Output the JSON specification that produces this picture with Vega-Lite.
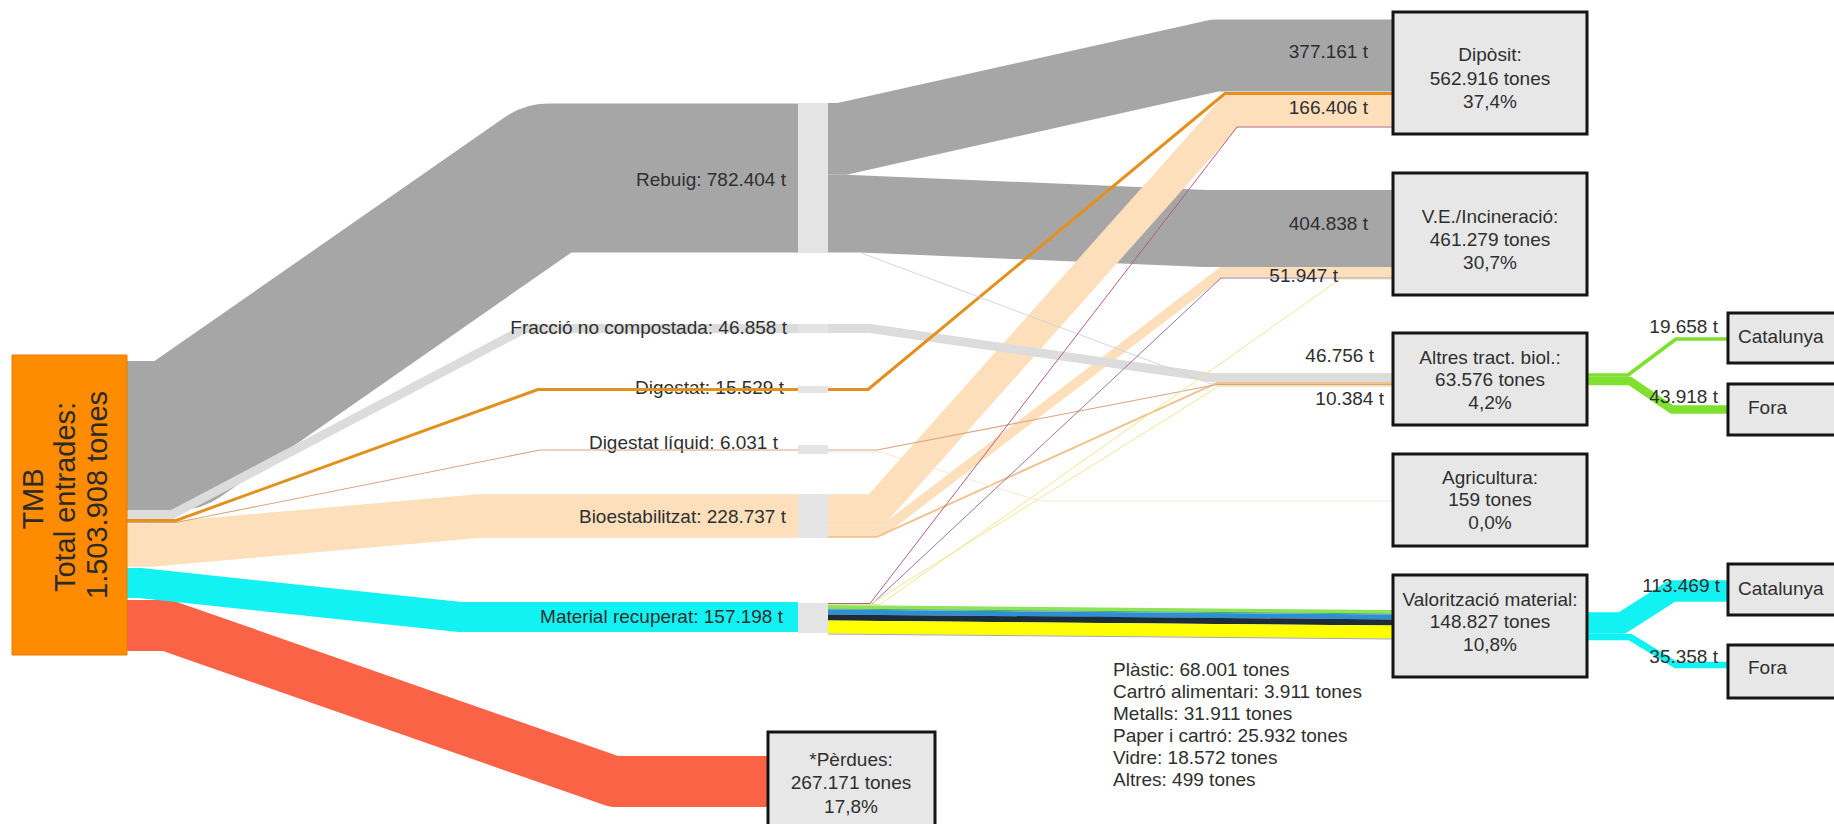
{
  "$schema": "https://vega.github.io/schema/vega-lite/v6.json",
  "width": 1834,
  "height": 824,
  "autosize": {"type": "none"},
  "padding": 0,
  "background": "white",
  "config": {"view": {"stroke": null}},
  "datasets": {
    "links": [
      {"id":"L1","flow":"Rebuig","t":782404,"g":1,"i":0,"x":127,"y":435.5},
      {"id":"L1","flow":"Rebuig","t":782404,"g":1,"i":1,"x":178,"y":435.5},
      {"id":"L1","flow":"Rebuig","t":782404,"g":1,"i":2,"x":548,"y":178},
      {"id":"L1","flow":"Rebuig","t":782404,"g":1,"i":3,"x":798,"y":178},
      {"id":"L2","flow":"Perdues","t":267171,"g":1,"i":0,"x":127,"y":625.5},
      {"id":"L2","flow":"Perdues","t":267171,"g":1,"i":1,"x":167,"y":625.5},
      {"id":"L2","flow":"Perdues","t":267171,"g":1,"i":2,"x":614,"y":781.5},
      {"id":"L2","flow":"Perdues","t":267171,"g":1,"i":3,"x":770,"y":781.5},
      {"id":"L3","flow":"MatRec","t":157198,"g":1,"i":0,"x":127,"y":583},
      {"id":"L3","flow":"MatRec","t":157198,"g":1,"i":1,"x":140,"y":583},
      {"id":"L3","flow":"MatRec","t":157198,"g":1,"i":2,"x":460,"y":617},
      {"id":"L3","flow":"MatRec","t":157198,"g":1,"i":3,"x":798,"y":617},
      {"id":"L4","flow":"Rebuig","t":377161,"g":1,"i":0,"x":828,"y":138.9},
      {"id":"L4","flow":"Rebuig","t":377161,"g":1,"i":1,"x":842,"y":138.9},
      {"id":"L4","flow":"Rebuig","t":377161,"g":1,"i":2,"x":1215,"y":55.5},
      {"id":"L4","flow":"Rebuig","t":377161,"g":1,"i":3,"x":1394,"y":55.5},
      {"id":"L5","flow":"Rebuig","t":404838,"g":1,"i":0,"x":828,"y":213.4},
      {"id":"L5","flow":"Rebuig","t":404838,"g":1,"i":1,"x":850,"y":213.4},
      {"id":"L5","flow":"Rebuig","t":404838,"g":1,"i":2,"x":1205,"y":228.5},
      {"id":"L5","flow":"Rebuig","t":404838,"g":1,"i":3,"x":1394,"y":228.5},
      {"id":"L6","flow":"Bioest","t":228737,"g":2,"i":0,"x":127,"y":545},
      {"id":"L6","flow":"Bioest","t":228737,"g":2,"i":1,"x":150,"y":545},
      {"id":"L6","flow":"Bioest","t":228737,"g":2,"i":2,"x":480,"y":516},
      {"id":"L6","flow":"Bioest","t":228737,"g":2,"i":3,"x":798,"y":516},
      {"id":"L7","flow":"Bioest","t":166406,"g":2,"i":0,"x":828,"y":510},
      {"id":"L7","flow":"Bioest","t":166406,"g":2,"i":1,"x":876,"y":510},
      {"id":"L7","flow":"Bioest","t":166406,"g":2,"i":2,"x":1232,"y":110.3},
      {"id":"L7","flow":"Bioest","t":166406,"g":2,"i":3,"x":1394,"y":110.3},
      {"id":"L8","flow":"Bioest","t":51947,"g":2,"i":0,"x":828,"y":530.9},
      {"id":"L8","flow":"Bioest","t":51947,"g":2,"i":1,"x":882,"y":530.9},
      {"id":"L8","flow":"Bioest","t":51947,"g":2,"i":2,"x":1222,"y":272},
      {"id":"L8","flow":"Bioest","t":51947,"g":2,"i":3,"x":1394,"y":272},
      {"id":"L9","flow":"BioThin","t":10384,"g":2,"i":0,"x":828,"y":536.8},
      {"id":"L9","flow":"BioThin","t":10384,"g":2,"i":1,"x":877,"y":536.8},
      {"id":"L9","flow":"BioThin","t":10384,"g":2,"i":2,"x":1217,"y":382.9},
      {"id":"L9","flow":"BioThin","t":10384,"g":2,"i":3,"x":1394,"y":382.9},
      {"id":"L10","flow":"Fraccio","t":46858,"g":2,"i":0,"x":127,"y":514.5},
      {"id":"L10","flow":"Fraccio","t":46858,"g":2,"i":1,"x":172,"y":514.5},
      {"id":"L10","flow":"Fraccio","t":46858,"g":2,"i":2,"x":525,"y":328.5},
      {"id":"L10","flow":"Fraccio","t":46858,"g":2,"i":3,"x":798,"y":328.5},
      {"id":"L11","flow":"Fraccio","t":46756,"g":2,"i":0,"x":828,"y":328.5},
      {"id":"L11","flow":"Fraccio","t":46756,"g":2,"i":1,"x":870,"y":328.5},
      {"id":"L11","flow":"Fraccio","t":46756,"g":2,"i":2,"x":1212,"y":377.5},
      {"id":"L11","flow":"Fraccio","t":46756,"g":2,"i":3,"x":1394,"y":377.5},
      {"id":"L12","flow":"Digestat","t":15529,"g":3,"i":0,"x":127,"y":520.5},
      {"id":"L12","flow":"Digestat","t":15529,"g":3,"i":1,"x":176,"y":520.5},
      {"id":"L12","flow":"Digestat","t":15529,"g":3,"i":2,"x":538,"y":389.5},
      {"id":"L12","flow":"Digestat","t":15529,"g":3,"i":3,"x":798,"y":389.5},
      {"id":"L13","flow":"Digestat","t":15529,"g":3,"i":0,"x":828,"y":389.5},
      {"id":"L13","flow":"Digestat","t":15529,"g":3,"i":1,"x":868,"y":389.5},
      {"id":"L13","flow":"Digestat","t":15529,"g":3,"i":2,"x":1225,"y":93.5},
      {"id":"L13","flow":"Digestat","t":15529,"g":3,"i":3,"x":1394,"y":93.5},
      {"id":"L14","flow":"DigLiq","t":6031,"g":3,"i":0,"x":127,"y":522.5},
      {"id":"L14","flow":"DigLiq","t":6031,"g":3,"i":1,"x":176,"y":522.5},
      {"id":"L14","flow":"DigLiq","t":6031,"g":3,"i":2,"x":540,"y":450},
      {"id":"L14","flow":"DigLiq","t":6031,"g":3,"i":3,"x":798,"y":450},
      {"id":"L15","flow":"DigLiq","t":6031,"g":3,"i":0,"x":828,"y":450},
      {"id":"L15","flow":"DigLiq","t":6031,"g":3,"i":1,"x":877,"y":450},
      {"id":"L15","flow":"DigLiq","t":6031,"g":3,"i":2,"x":1217,"y":384.5},
      {"id":"L15","flow":"DigLiq","t":6031,"g":3,"i":3,"x":1394,"y":384.5},
      {"id":"L16","flow":"RebThin","t":405,"g":3,"i":0,"x":828,"y":252.5},
      {"id":"L16","flow":"RebThin","t":405,"g":3,"i":1,"x":860,"y":252.5},
      {"id":"L16","flow":"RebThin","t":405,"g":3,"i":2,"x":1217,"y":386},
      {"id":"L16","flow":"RebThin","t":405,"g":3,"i":3,"x":1394,"y":386},
      {"id":"L17","flow":"Agri","t":159,"g":3,"i":0,"x":828,"y":452},
      {"id":"L17","flow":"Agri","t":159,"g":3,"i":1,"x":880,"y":452},
      {"id":"L17","flow":"Agri","t":159,"g":3,"i":2,"x":1040,"y":501},
      {"id":"L17","flow":"Agri","t":159,"g":3,"i":3,"x":1394,"y":501},
      {"id":"L18","flow":"Maroon","t":3820,"g":3,"i":0,"x":828,"y":603.5},
      {"id":"L18","flow":"Maroon","t":3820,"g":3,"i":1,"x":870,"y":603.5},
      {"id":"L18","flow":"Maroon","t":3820,"g":3,"i":2,"x":1237,"y":127},
      {"id":"L18","flow":"Maroon","t":3820,"g":3,"i":3,"x":1394,"y":127},
      {"id":"L19","flow":"Purple","t":2500,"g":3,"i":0,"x":828,"y":604},
      {"id":"L19","flow":"Purple","t":2500,"g":3,"i":1,"x":872,"y":604},
      {"id":"L19","flow":"Purple","t":2500,"g":3,"i":2,"x":1221,"y":278},
      {"id":"L19","flow":"Purple","t":2500,"g":3,"i":3,"x":1394,"y":278},
      {"id":"L20","flow":"PaleYellow","t":1994,"g":3,"i":0,"x":828,"y":604.5},
      {"id":"L20","flow":"PaleYellow","t":1994,"g":3,"i":1,"x":880,"y":604.5},
      {"id":"L20","flow":"PaleYellow","t":1994,"g":3,"i":2,"x":1340,"y":279},
      {"id":"L20","flow":"PaleYellow","t":1994,"g":3,"i":3,"x":1394,"y":279},
      {"id":"L21","flow":"PaleYellow","t":300,"g":3,"i":0,"x":828,"y":604.5},
      {"id":"L21","flow":"PaleYellow","t":300,"g":3,"i":1,"x":870,"y":604.5},
      {"id":"L21","flow":"PaleYellow","t":300,"g":3,"i":2,"x":1220,"y":385.5},
      {"id":"L21","flow":"PaleYellow","t":300,"g":3,"i":3,"x":1394,"y":385.5},
      {"id":"L22","flow":"Vidre","t":18572,"g":3,"i":0,"x":828,"y":606.8},
      {"id":"L22","flow":"Vidre","t":18572,"g":3,"i":1,"x":1394,"y":611.8},
      {"id":"L23","flow":"Cartro","t":3911,"g":3,"i":0,"x":828,"y":609},
      {"id":"L23","flow":"Cartro","t":3911,"g":3,"i":1,"x":1394,"y":614},
      {"id":"L24","flow":"Paper","t":25932,"g":3,"i":0,"x":828,"y":612},
      {"id":"L24","flow":"Paper","t":25932,"g":3,"i":1,"x":1394,"y":617},
      {"id":"L25","flow":"Metalls","t":31911,"g":3,"i":0,"x":828,"y":617.5},
      {"id":"L25","flow":"Metalls","t":31911,"g":3,"i":1,"x":1394,"y":622.5},
      {"id":"L26","flow":"Plastic","t":68001,"g":3,"i":0,"x":828,"y":627},
      {"id":"L26","flow":"Plastic","t":68001,"g":3,"i":1,"x":1394,"y":632},
      {"id":"L27","flow":"AltresMat","t":499,"g":3,"i":0,"x":828,"y":634},
      {"id":"L27","flow":"AltresMat","t":499,"g":3,"i":1,"x":1394,"y":639},
      {"id":"L28","flow":"Green","t":19658,"g":3,"i":0,"x":1586,"y":375},
      {"id":"L28","flow":"Green","t":19658,"g":3,"i":1,"x":1628,"y":375},
      {"id":"L28","flow":"Green","t":19658,"g":3,"i":2,"x":1676,"y":339},
      {"id":"L28","flow":"Green","t":19658,"g":3,"i":3,"x":1729,"y":339},
      {"id":"L29","flow":"Green","t":43918,"g":3,"i":0,"x":1586,"y":381},
      {"id":"L29","flow":"Green","t":43918,"g":3,"i":1,"x":1630,"y":381},
      {"id":"L29","flow":"Green","t":43918,"g":3,"i":2,"x":1672,"y":409.5},
      {"id":"L29","flow":"Green","t":43918,"g":3,"i":3,"x":1729,"y":409.5},
      {"id":"L30","flow":"MatRec","t":113469,"g":3,"i":0,"x":1586,"y":623},
      {"id":"L30","flow":"MatRec","t":113469,"g":3,"i":1,"x":1622,"y":623},
      {"id":"L30","flow":"MatRec","t":113469,"g":3,"i":2,"x":1672,"y":591},
      {"id":"L30","flow":"MatRec","t":113469,"g":3,"i":3,"x":1729,"y":591},
      {"id":"L31","flow":"MatRec","t":35358,"g":3,"i":0,"x":1586,"y":637},
      {"id":"L31","flow":"MatRec","t":35358,"g":3,"i":1,"x":1630,"y":637},
      {"id":"L31","flow":"MatRec","t":35358,"g":3,"i":2,"x":1676,"y":665},
      {"id":"L31","flow":"MatRec","t":35358,"g":3,"i":3,"x":1729,"y":665}
    ],
    "nodes": [
      {"name":"TMB","kind":"tmb","x0":12,"x1":127,"y0":355,"y1":655},
      {"name":"Rebuig","kind":"bar","x0":798,"x1":828,"y0":103,"y1":253},
      {"name":"Fraccio","kind":"bar","x0":798,"x1":828,"y0":324,"y1":333},
      {"name":"Digestat","kind":"bar","x0":798,"x1":828,"y0":386,"y1":393},
      {"name":"DigLiq","kind":"bar","x0":798,"x1":828,"y0":445,"y1":454},
      {"name":"Bioest","kind":"bar","x0":798,"x1":828,"y0":494,"y1":538},
      {"name":"MatRec","kind":"bar","x0":798,"x1":828,"y0":603,"y1":633},
      {"name":"Diposit","kind":"box","x0":1393,"x1":1587,"y0":12,"y1":134},
      {"name":"VE","kind":"box","x0":1393,"x1":1587,"y0":173,"y1":295},
      {"name":"Altres","kind":"box","x0":1393,"x1":1587,"y0":333,"y1":425},
      {"name":"Agricultura","kind":"box","x0":1393,"x1":1587,"y0":454,"y1":546},
      {"name":"Valoritzacio","kind":"box","x0":1393,"x1":1587,"y0":575,"y1":677},
      {"name":"Perdues","kind":"box","x0":768,"x1":935,"y0":732,"y1":840},
      {"name":"Cat1","kind":"box","x0":1728,"x1":1850,"y0":313,"y1":363},
      {"name":"Fora1","kind":"box","x0":1728,"x1":1850,"y0":384,"y1":435},
      {"name":"Cat2","kind":"box","x0":1728,"x1":1850,"y0":564,"y1":615},
      {"name":"Fora2","kind":"box","x0":1728,"x1":1850,"y0":645,"y1":698}
    ],
    "labels": [
      {"k":"r","x":786,"y":180,"txt":"Rebuig: 782.404 t"},
      {"k":"r","x":787,"y":328,"txt":"Fracció no compostada: 46.858 t"},
      {"k":"r","x":784,"y":388,"txt":"Digestat: 15.529 t"},
      {"k":"r","x":778,"y":443,"txt":"Digestat líquid: 6.031 t"},
      {"k":"r","x":786,"y":517,"txt":"Bioestabilitzat: 228.737 t"},
      {"k":"r","x":783,"y":617,"txt":"Material recuperat: 157.198 t"},
      {"k":"r2","x":1368,"y":52,"txt":"377.161 t"},
      {"k":"r2","x":1368,"y":108,"txt":"166.406 t"},
      {"k":"r2","x":1368,"y":224,"txt":"404.838 t"},
      {"k":"r2","x":1338,"y":276,"txt":"51.947 t"},
      {"k":"r2","x":1374,"y":356,"txt":"46.756 t"},
      {"k":"r2","x":1384,"y":399,"txt":"10.384 t"},
      {"k":"r2","x":1718,"y":327,"txt":"19.658 t"},
      {"k":"r2","x":1718,"y":397,"txt":"43.918 t"},
      {"k":"r2","x":1720,"y":586,"txt":"113.469 t"},
      {"k":"r2","x":1718,"y":657,"txt":"35.358 t"},
      {"k":"c","x":1490,"y":55,"txt":"Dipòsit:"},
      {"k":"c","x":1490,"y":79,"txt":"562.916 tones"},
      {"k":"c","x":1490,"y":102,"txt":"37,4%"},
      {"k":"c","x":1490,"y":217,"txt":"V.E./Incineració:"},
      {"k":"c","x":1490,"y":240,"txt":"461.279 tones"},
      {"k":"c","x":1490,"y":263,"txt":"30,7%"},
      {"k":"c","x":1490,"y":358,"txt":"Altres tract. biol.:"},
      {"k":"c","x":1490,"y":380,"txt":"63.576 tones"},
      {"k":"c","x":1490,"y":403,"txt":"4,2%"},
      {"k":"c","x":1490,"y":478,"txt":"Agricultura:"},
      {"k":"c","x":1490,"y":500,"txt":"159 tones"},
      {"k":"c","x":1490,"y":523,"txt":"0,0%"},
      {"k":"c","x":1490,"y":600,"txt":"Valorització material:"},
      {"k":"c","x":1490,"y":622,"txt":"148.827 tones"},
      {"k":"c","x":1490,"y":645,"txt":"10,8%"},
      {"k":"c","x":851,"y":760,"txt":"*Pèrdues:"},
      {"k":"c","x":851,"y":783,"txt":"267.171 tones"},
      {"k":"c","x":851,"y":807,"txt":"17,8%"},
      {"k":"l","x":1738,"y":337,"txt":"Catalunya"},
      {"k":"l","x":1748,"y":408,"txt":"Fora"},
      {"k":"l","x":1738,"y":589,"txt":"Catalunya"},
      {"k":"l","x":1748,"y":668,"txt":"Fora"},
      {"k":"l","x":1113,"y":670,"txt":"Plàstic: 68.001 tones"},
      {"k":"l","x":1113,"y":692,"txt":"Cartró alimentari: 3.911 tones"},
      {"k":"l","x":1113,"y":714,"txt":"Metalls: 31.911 tones"},
      {"k":"l","x":1113,"y":736,"txt":"Paper i cartró: 25.932 tones"},
      {"k":"l","x":1113,"y":758,"txt":"Vidre: 18.572 tones"},
      {"k":"l","x":1113,"y":780,"txt":"Altres: 499 tones"},
      {"k":"tmb","x":34,"y":499,"txt":"TMB"},
      {"k":"tmb","x":66,"y":497,"txt":"Total entrades:"},
      {"k":"tmb","x":98,"y":495,"txt":"1.503.908 tones"}
    ]
  },
  "layer": [
    {
      "data": {"name": "links"},
      "transform": [{"filter": "datum.g == 1"}],
      "mark": {"type": "line", "strokeJoin": "round", "strokeCap": "butt", "clip": true},
      "encoding": {
        "x": {"field": "x", "type": "quantitative", "scale": {"domain": [0, 1834], "nice": false, "zero": false}, "axis": null},
        "y": {"field": "y", "type": "quantitative", "scale": {"domain": [0, 824], "reverse": true, "nice": false, "zero": false}, "axis": null},
        "detail": {"field": "id", "type": "nominal"},
        "order": {"field": "i", "type": "quantitative"},
        "color": {"field": "flow", "type": "nominal", "legend": null,
          "scale": {"domain": ["Rebuig","Perdues","MatRec","Bioest","BioThin","Fraccio","Digestat","DigLiq","RebThin","Agri","Maroon","Purple","PaleYellow","Vidre","Cartro","Paper","Metalls","Plastic","AltresMat","Green"],
                    "range": ["#a6a6a6","#fb6347","#12f2f2","#fde0bb","#f2c28e","#dcdcdc","#e3901c","#d8a582","#d2d2d2","#f6e6cf","#b5587a","#9a6aa0","#eee58a","#8fe35a","#3fae3f","#2f8fd6","#1d2d38","#ffff00","#9e9e9e","#80e030"]}},
        "strokeWidth": {"field": "t", "type": "quantitative", "legend": null, "scale": {"type": "linear", "domain": [0, 5250, 1000000], "range": [0.9, 1, 190.48]}}
      }
    },
    {
      "data": {"name": "links"},
      "transform": [{"filter": "datum.g == 2"}],
      "mark": {"type": "line", "strokeJoin": "round", "strokeCap": "butt", "clip": true},
      "encoding": {
        "x": {"field": "x", "type": "quantitative", "axis": null},
        "y": {"field": "y", "type": "quantitative", "axis": null},
        "detail": {"field": "id", "type": "nominal"},
        "order": {"field": "i", "type": "quantitative"},
        "color": {"field": "flow", "type": "nominal", "legend": null},
        "strokeWidth": {"field": "t", "type": "quantitative", "legend": null}
      }
    },
    {
      "data": {"name": "labels"},
      "transform": [{"filter": "datum.k == 'r'"}],
      "mark": {"type": "text", "align": "right", "baseline": "middle", "font": "Liberation Sans", "fontSize": 19, "color": "#2f2f2f"},
      "encoding": {
        "x": {"field": "x", "type": "quantitative", "axis": null},
        "y": {"field": "y", "type": "quantitative", "axis": null},
        "text": {"field": "txt", "type": "nominal"}
      }
    },
    {
      "data": {"name": "links"},
      "transform": [{"filter": "datum.g == 3"}],
      "mark": {"type": "line", "strokeJoin": "round", "strokeCap": "butt", "clip": true},
      "encoding": {
        "x": {"field": "x", "type": "quantitative", "axis": null},
        "y": {"field": "y", "type": "quantitative", "axis": null},
        "detail": {"field": "id", "type": "nominal"},
        "order": {"field": "i", "type": "quantitative"},
        "color": {"field": "flow", "type": "nominal", "legend": null},
        "strokeWidth": {"field": "t", "type": "quantitative", "legend": null}
      }
    },
    {
      "data": {"name": "nodes"},
      "transform": [{"filter": "datum.kind == 'bar'"}],
      "mark": {"type": "rect", "color": "#e4e4e4"},
      "encoding": {
        "x": {"field": "x0", "type": "quantitative", "axis": null},
        "x2": {"field": "x1"},
        "y": {"field": "y0", "type": "quantitative", "axis": null},
        "y2": {"field": "y1"}
      }
    },
    {
      "data": {"name": "nodes"},
      "transform": [{"filter": "datum.kind == 'box'"}],
      "mark": {"type": "rect", "fill": "#e7e7e7", "stroke": "#141414", "strokeWidth": 3, "clip": true},
      "encoding": {
        "x": {"field": "x0", "type": "quantitative", "axis": null},
        "x2": {"field": "x1"},
        "y": {"field": "y0", "type": "quantitative", "axis": null},
        "y2": {"field": "y1"}
      }
    },
    {
      "data": {"name": "nodes"},
      "transform": [{"filter": "datum.kind == 'tmb'"}],
      "mark": {"type": "rect", "fill": "#ff8c00", "stroke": "#e87a00", "strokeWidth": 1},
      "encoding": {
        "x": {"field": "x0", "type": "quantitative", "axis": null},
        "x2": {"field": "x1"},
        "y": {"field": "y0", "type": "quantitative", "axis": null},
        "y2": {"field": "y1"}
      }
    },
    {
      "data": {"name": "labels"},
      "transform": [{"filter": "datum.k == 'r2'"}],
      "mark": {"type": "text", "align": "right", "baseline": "middle", "font": "Liberation Sans", "fontSize": 19, "color": "#2f2f2f"},
      "encoding": {
        "x": {"field": "x", "type": "quantitative", "axis": null},
        "y": {"field": "y", "type": "quantitative", "axis": null},
        "text": {"field": "txt", "type": "nominal"}
      }
    },
    {
      "data": {"name": "labels"},
      "transform": [{"filter": "datum.k == 'c'"}],
      "mark": {"type": "text", "align": "center", "baseline": "middle", "font": "Liberation Sans", "fontSize": 19, "color": "#2f2f2f"},
      "encoding": {
        "x": {"field": "x", "type": "quantitative", "axis": null},
        "y": {"field": "y", "type": "quantitative", "axis": null},
        "text": {"field": "txt", "type": "nominal"}
      }
    },
    {
      "data": {"name": "labels"},
      "transform": [{"filter": "datum.k == 'l'"}],
      "mark": {"type": "text", "align": "left", "baseline": "middle", "font": "Liberation Sans", "fontSize": 19, "color": "#2f2f2f"},
      "encoding": {
        "x": {"field": "x", "type": "quantitative", "axis": null},
        "y": {"field": "y", "type": "quantitative", "axis": null},
        "text": {"field": "txt", "type": "nominal"}
      }
    },
    {
      "data": {"name": "labels"},
      "transform": [{"filter": "datum.k == 'tmb'"}],
      "mark": {"type": "text", "align": "center", "baseline": "middle", "angle": 270, "font": "Liberation Sans", "fontSize": 29, "color": "#2a2a2a"},
      "encoding": {
        "x": {"field": "x", "type": "quantitative", "axis": null},
        "y": {"field": "y", "type": "quantitative", "axis": null},
        "text": {"field": "txt", "type": "nominal"}
      }
    }
  ]
}
